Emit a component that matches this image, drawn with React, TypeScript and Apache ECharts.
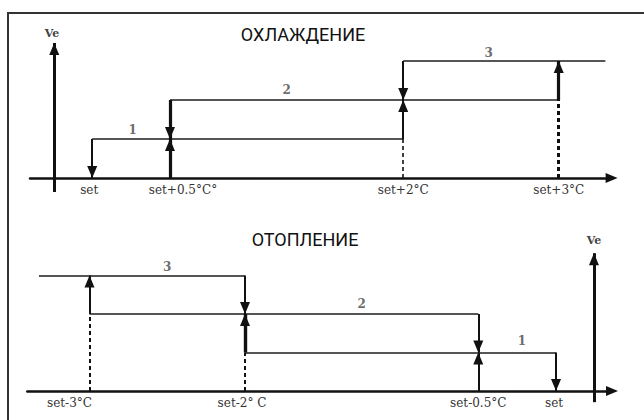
import React, { useEffect, useRef } from 'react';
import * as echarts from 'echarts';

// ---------- data (x: °C offset from set point, y: fan speed level) ----------
const coolTicks = [0, 0.5, 2, 3];
const coolTickLabels = ['set', 'set+0.5°C°', 'set+2°C', 'set+3°C'];
const heatTicks = [-3, -2, -0.5, 0];
const heatTickLabels = ['set-3°C', 'set-2° C', 'set-0.5°C', 'set'];
const speedNames = ['1', '2', '3'];

// segments [x1, y1, x2, y2]
const coolSteps = [[0, 1, 2, 1], [0.5, 2, 3, 2], [2, 3, 3.3, 3]];
const coolArrows = [[0, 1, 0, 0], [2, 1, 2, 2], [2, 3, 2, 2]];
const coolArrowsBold = [[0.5, 0, 0.5, 1], [0.5, 2, 0.5, 1], [3, 2, 3, 3]];
const coolDashed = [[2, 0, 2, 1]];
const coolDashedBold = [[3, 0, 3, 2]];
const coolSpeedPos = [[0.26, 1.22], [1.25, 2.25], [2.55, 3.2]];
const coolVeAxis = [[-0.244, -0.36, -0.244, 3.46]];

const heatSteps = [[-3.325, 3, -2, 3], [-3, 2, -0.5, 2], [-2, 1, 0, 1]];
const heatArrows = [[-3, 2, -3, 3], [-2, 3, -2, 2], [-0.5, 2, -0.5, 1], [-0.5, 0, -0.5, 1], [0, 1, 0, 0]];
const heatArrowsBold = [[-2, 1, -2, 2]];
const heatDashed = [[-3, 0, -3, 2], [-2, 0, -2, 1]];
const heatSpeedPos = [[-0.22, 1.31], [-1.25, 2.26], [-2.5, 3.22]];
const heatVeAxis = [[0.244, -0.29, 0.244, 3.58]];

// ---------- styles ----------
const INK = '#111';
const LEVEL = '#555';
const LABEL_COLOR = '#333';
const SERIF = "'DejaVu Serif', 'Liberation Serif', serif";
const UP = 'path://M5,0L10,12L0,12Z';
const DOWN = 'path://M0,0L10,0L5,12Z';
const coolLabelShift = [-3, 13, 0, 0];
const heatLabelShift = [-20, -3, 0, -2];

type Seg = number[];

function segs(list: Seg[]) {
  return list.map((s) => ({ coords: [[s[0], s[1]], [s[2], s[3]]] }));
}

function lines(list: Seg[], g: number, color: string, width: number, type: any = 'solid') {
  return {
    type: 'lines',
    coordinateSystem: 'cartesian2d',
    xAxisIndex: g,
    yAxisIndex: g,
    silent: true,
    polyline: false,
    symbol: 'none',
    z: 3,
    lineStyle: { color, width, type, opacity: 1, curveness: 0, cap: 'butt' },
    data: segs(list),
  };
}

function heads(list: Seg[], g: number) {
  return {
    type: 'scatter',
    xAxisIndex: g,
    yAxisIndex: g,
    silent: true,
    z: 6,
    symbolSize: [10, 12],
    itemStyle: { color: INK, opacity: 1 },
    data: list.map((s) => {
      const up = s[3] > s[1];
      return { value: [s[2], s[3]], symbol: up ? UP : DOWN, symbolOffset: [0, up ? 6 : -6] };
    }),
  };
}

function speedText(pos: number[][], g: number) {
  return {
    type: 'scatter',
    xAxisIndex: g,
    yAxisIndex: g,
    silent: true,
    z: 7,
    symbol: 'circle',
    symbolSize: 1,
    itemStyle: { color: 'rgba(0,0,0,0)' },
    label: {
      show: true,
      position: 'inside',
      formatter: (p: any) => p.name,
      fontFamily: SERIF,
      fontSize: 12,
      fontWeight: 'bold',
      color: '#444',
    },
    data: pos.map((p, i) => ({ name: speedNames[i], value: p })),
  };
}

function tickLabel(ticks: number[], labels: string[], shifts: number[], margin: number) {
  const rich: Record<string, any> = {};
  ticks.forEach((_, i) => {
    const d = shifts[i];
    rich['t' + i] = {
      fontFamily: SERIF,
      fontSize: 12,
      color: LABEL_COLOR,
      padding: d >= 0 ? [0, 0, 0, 2 * d] : [0, -2 * d, 0, 0],
    };
  });
  return {
    customValues: ticks,
    margin,
    fontFamily: SERIF,
    fontSize: 12,
    color: LABEL_COLOR,
    formatter: (v: number) => {
      const i = ticks.findIndex((t) => Math.abs(t - v) < 1e-6);
      return i < 0 ? '' : `{t${i}|${labels[i]}}`;
    },
    rich,
  };
}

function xAxis(g: number, min: number, max: number, ticks: number[], labels: string[], shifts: number[], margin: number) {
  return {
    gridIndex: g,
    type: 'value',
    min,
    max,
    splitLine: { show: false },
    axisTick: { show: false },
    axisLine: {
      show: true,
      onZero: true,
      lineStyle: { color: INK, width: 2.5 },
      symbol: ['none', 'triangle'],
      symbolSize: [10, 12],
    },
    axisLabel: tickLabel(ticks, labels, shifts, margin),
  };
}

function yAxis(g: number, min: number, max: number) {
  return {
    gridIndex: g,
    type: 'value',
    min,
    max,
    show: false,
    splitLine: { show: false },
  };
}

const option: any = {
  animation: false,
  backgroundColor: '#ffffff',
  grid: [
    { left: 30, top: 41.5, width: 581.6, height: 150.54, outerBoundsMode: 'none', containLabel: false },
    { left: 27.3, top: 252.4, width: 584.7, height: 150.15, outerBoundsMode: 'none', containLabel: false },
  ],
  xAxis: [
    xAxis(0, -0.4, 3.34, coolTicks, coolTickLabels, coolLabelShift, -8),
    xAxis(1, -3.4, 0.36, heatTicks, heatTickLabels, heatLabelShift, -5.5),
  ],
  yAxis: [yAxis(0, -0.36, 3.5), yAxis(1, -0.3, 3.6)],
  series: [
    // cooling
    lines(coolSteps, 0, LEVEL, 1.8),
    lines(coolDashed, 0, INK, 1.6, [4, 3]),
    lines(coolDashedBold, 0, INK, 3, [4, 3]),
    lines(coolArrows, 0, INK, 2),
    lines(coolArrowsBold, 0, INK, 3.2),
    lines(coolVeAxis, 0, INK, 3),
    heads(coolArrows, 0),
    heads(coolArrowsBold, 0),
    heads(coolVeAxis, 0),
    speedText(coolSpeedPos, 0),
    // heating
    lines(heatSteps, 1, LEVEL, 1.8),
    lines(heatDashed, 1, INK, 2, [4, 3]),
    lines(heatArrows, 1, INK, 2),
    lines(heatArrowsBold, 1, INK, 3.4),
    lines(heatVeAxis, 1, INK, 3),
    heads(heatArrows, 1),
    heads(heatArrowsBold, 1),
    heads(heatVeAxis, 1),
    speedText(heatSpeedPos, 1),
  ],
  graphic: {
    elements: [
      {
        type: 'polyline',
        silent: true,
        z: 10,
        shape: { points: [[8, 422], [8, 13], [646, 13]] },
        style: { stroke: '#333', lineWidth: 2, fill: 'none' },
      },
      {
        type: 'text',
        silent: true,
        z: 10,
        x: 303,
        y: 34,
        style: {
          text: 'ОХЛАЖДЕНИЕ',
          fontFamily: 'Roboto, sans-serif',
          fontSize: 18,
          fill: '#111',
          textAlign: 'center',
          textVerticalAlign: 'middle',
        },
      },
      {
        type: 'text',
        silent: true,
        z: 10,
        x: 305,
        y: 239,
        style: {
          text: 'ОТОПЛЕНИЕ',
          fontFamily: 'Roboto, sans-serif',
          fontSize: 18,
          fill: '#111',
          textAlign: 'center',
          textVerticalAlign: 'middle',
        },
      },
      {
        type: 'text',
        silent: true,
        z: 10,
        x: 52,
        y: 33,
        style: {
          text: 'Ve',
          fontFamily: SERIF,
          fontSize: 11,
          fontWeight: 'bold',
          fill: '#444',
          textAlign: 'center',
          textVerticalAlign: 'middle',
        },
      },
      {
        type: 'text',
        silent: true,
        z: 10,
        x: 594,
        y: 240,
        style: {
          text: 'Ve',
          fontFamily: SERIF,
          fontSize: 11,
          fontWeight: 'bold',
          fill: '#444',
          textAlign: 'center',
          textVerticalAlign: 'middle',
        },
      },
    ],
  },
};

export default function App() {
  const ref = useRef<HTMLDivElement>(null);
  useEffect(() => {
    if (!ref.current) return;
    const chart = echarts.init(ref.current, null, { renderer: 'svg' });
    chart.setOption(option);
    return () => chart.dispose();
  }, []);
  return (
    <div
      ref={ref}
      style={{ position: 'absolute', left: 0, top: 0, width: 644, height: 420, background: '#fff' }}
    />
  );
}
